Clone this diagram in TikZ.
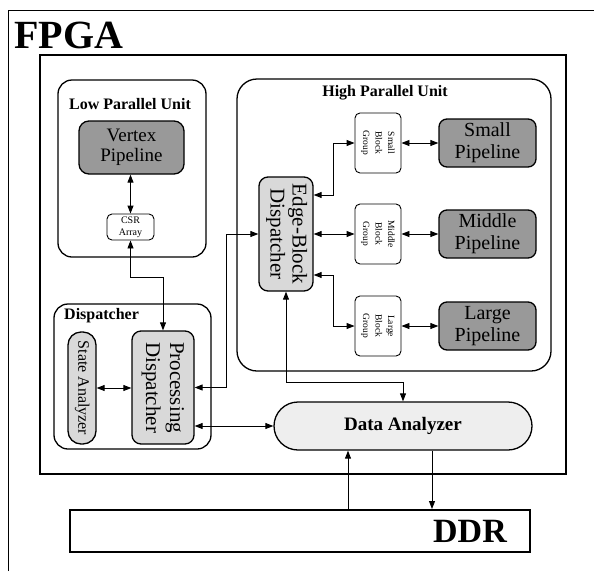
\documentclass[tikz,border=0pt]{standalone}
\usepackage{fontspec}
\setmainfont{Liberation Serif}
\usetikzlibrary{arrows.meta}
\definecolor{darkfill}{HTML}{999999}
\definecolor{lightfill}{HTML}{D9D9D9}
\definecolor{dafill}{HTML}{EEEEEE}
\newcommand{\rotlines}[1]{\rotatebox{-90}{\begin{tabular}{@{}c@{}}#1\end{tabular}}}
\tikzset{
  unitbox/.style={draw, line width=1.3pt, rounded corners=14pt, inner sep=0pt},
  pipebox/.style={draw, line width=1.3pt, rounded corners=8pt, fill=darkfill, inner sep=0pt, align=center, font=\fontsize{20}{22}\selectfont},
  smallbox/.style={draw, line width=0.9pt, rounded corners=5pt, fill=white, inner sep=0pt, align=center},
  dispbox/.style={draw, line width=1.3pt, rounded corners=9pt, fill=lightfill, inner sep=0pt},
  titletext/.style={font=\fontsize{16}{18}\selectfont\bfseries, inner sep=0pt},
  link/.style={line width=0.9pt, {Triangle[length=8pt,width=6pt]}-{Triangle[length=8pt,width=6pt]}},
  onearrow/.style={line width=0.9pt, -{Triangle[length=8pt,width=6pt]}},
}
\begin{document}
\begin{tikzpicture}[x=1pt,y=-1pt]
\useasboundingbox (0,0) rectangle (594,571);
% outer FPGA frame (partly outside the picture)
\coordinate (ob) at (8,571);
\coordinate (otl) at (8,10);
\coordinate (otr) at (594,10);
\draw[line width=0.9pt] (ob) -- (otl) -- (otr);
\node[anchor=base west, inner sep=0pt, font=\fontsize{40}{40}\selectfont\bfseries] (fpga) at (14,48) {FPGA};
% inner thick frame
\node[draw, line width=2.4pt, minimum width=526pt, minimum height=419pt, inner sep=0pt] (inner) at (303,264.5) {};

% Low parallel unit
\node[unitbox, minimum width=148pt, minimum height=177pt] (lpu) at (132,168.5) {};
\node[titletext] (lputitle) at (130,104) {Low Parallel Unit};
\node[pipebox, rounded corners=10pt, minimum width=105pt, minimum height=53pt, font=\fontsize{19}{20}\selectfont] (vp) at (131.5,147.5) {Vertex\\Pipeline};
\node[smallbox, minimum width=47pt, minimum height=26pt, font=\fontsize{10}{12}\selectfont] (csr) at (130.5,227) {CSR\\Array};

% High parallel unit
\node[unitbox, rounded corners=20pt, minimum width=314pt, minimum height=292pt] (hpu) at (394,225) {};
\node[titletext] (hputitle) at (385,93) {High Parallel Unit};
\node[dispbox, minimum width=54pt, minimum height=114pt, font=\fontsize{21}{22}\selectfont] (ebd) at (286,234) {\rotlines{Edge-Block\\Dispatcher}};
\node[smallbox, minimum width=46pt, minimum height=60pt, font=\fontsize{9.5}{12.5}\selectfont] (sbg) at (378,143) {\rotlines{Small\\Block\\Group}};
\node[smallbox, minimum width=46pt, minimum height=60pt, font=\fontsize{9.5}{12.5}\selectfont] (mbg) at (378,234) {\rotlines{Middle\\Block\\Group}};
\node[smallbox, minimum width=46pt, minimum height=60pt, font=\fontsize{9.5}{12.5}\selectfont] (lbg) at (378,326) {\rotlines{Large\\Block\\Group}};
\node[pipebox, minimum width=97pt, minimum height=48pt] (sp) at (487.5,143) {Small\\Pipeline};
\node[pipebox, minimum width=97pt, minimum height=48pt] (mp) at (487.5,234) {Middle\\Pipeline};
\node[pipebox, minimum width=97pt, minimum height=48pt] (lp) at (487.5,326) {Large\\Pipeline};

% Dispatcher
\node[unitbox, minimum width=157pt, minimum height=145pt] (disp) at (132.5,376.5) {};
\node[titletext, anchor=west] (disptitle) at (64,316) {Dispatcher};
\node[dispbox, rounded corners=13pt, minimum width=28pt, minimum height=112pt, font=\fontsize{16}{18}\selectfont] (sa) at (82,388) {\rotlines{State Analyzer}};
\node[dispbox, minimum width=62pt, minimum height=113pt, font=\fontsize{21}{24}\selectfont] (pd) at (163,387.5) {\rotlines{Processing\\Dispatcher}};

% Data analyzer
\node[draw, line width=1.3pt, fill=dafill, rounded corners=24pt, minimum width=258pt, minimum height=48pt, inner sep=0pt, font=\fontsize{19}{21}\selectfont\bfseries] (da) at (403,426) {Data Analyzer};

% DDR
\node[draw, line width=2pt, minimum width=460pt, minimum height=42pt, inner sep=0pt] (ddr) at (300,531) {};
\node[inner sep=0pt, font=\fontsize{34}{34}\selectfont\bfseries] (ddrlabel) at (470,531) {DDR};

% helper coordinates
\coordinate (jcsr) at (0,277);
\coordinate (jpd) at (226,0);
\coordinate (jebd) at (0,382);
\coordinate (jbg) at (333,0);
\coordinate (jup) at (348,0);
\coordinate (jdown) at (432,0);

% connectors
\draw[link] (vp.south -| csr.north) -- (csr.north);
\draw[link] (csr.south) |- (pd.north |- jcsr) -- (pd.north);
\draw[link] (sa.east) -- (sa.east -| pd.west);
\draw[link] (pd.east) -- (jpd |- pd.east) |- (ebd.west);
\draw[link] (da.west -| pd.east) -- (da.west);
\draw[link] (ebd.south) |- (da.north |- jebd) -- (da.north);
\draw[link] ([yshift=39pt]ebd.east) -| (jbg |- sbg.west) -- (sbg.west);
\draw[link] (ebd.east) -- (mbg.west);
\draw[link] ([yshift=-41pt]ebd.east) -| (jbg |- lbg.west) -- (lbg.west);
\draw[link] (sbg.east) -- (sp.west);
\draw[link] (mbg.east) -- (mp.west);
\draw[link] (lbg.east) -- (lp.west);
\draw[onearrow] (ddr.north -| jup) -- (da.south -| jup);
\draw[onearrow] (da.south -| jdown) -- (ddr.north -| jdown);
\end{tikzpicture}
\end{document}
